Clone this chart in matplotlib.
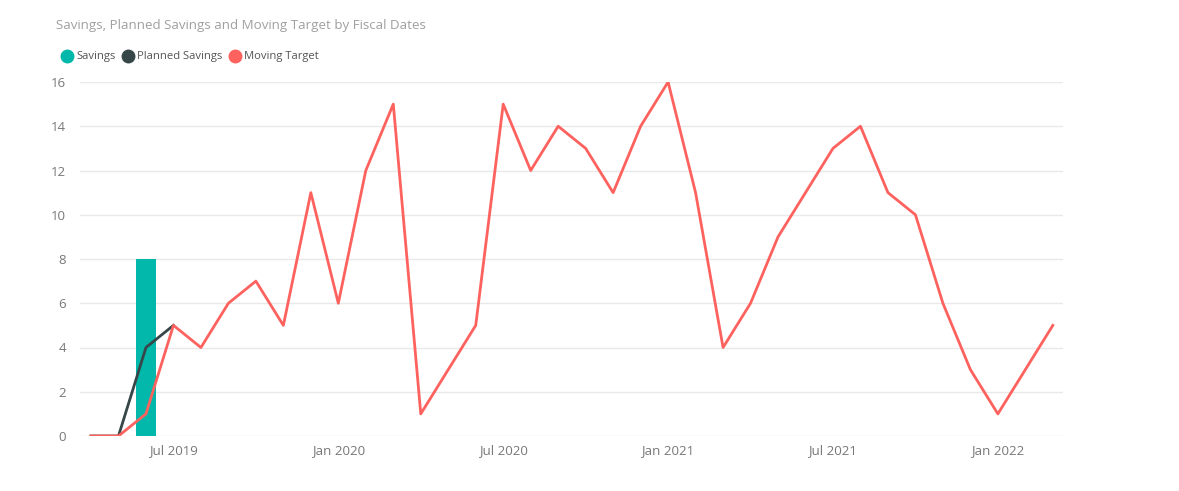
import matplotlib.pyplot as plt
from matplotlib.lines import Line2D

# -----------------------------
# Data (monthly, Apr 2019 - Mar 2022)
# -----------------------------
months = ["Apr 2019", "May 2019", "Jun 2019", "Jul 2019", "Aug 2019", "Sep 2019",
          "Oct 2019", "Nov 2019", "Dec 2019", "Jan 2020", "Feb 2020", "Mar 2020",
          "Apr 2020", "May 2020", "Jun 2020", "Jul 2020", "Aug 2020", "Sep 2020",
          "Oct 2020", "Nov 2020", "Dec 2020", "Jan 2021", "Feb 2021", "Mar 2021",
          "Apr 2021", "May 2021", "Jun 2021", "Jul 2021", "Aug 2021", "Sep 2021",
          "Oct 2021", "Nov 2021", "Dec 2021", "Jan 2022", "Feb 2022", "Mar 2022"]

moving_target = [0, 0, 1, 5, 4, 6, 7, 5, 11, 6, 12, 15,
                 1, 3, 5, 15, 12, 14, 13, 11, 14, 16, 11, 4,
                 6, 9, 11, 13, 14, 11, 10, 6, 3, 1, 3, 5]

planned_months = ["Apr 2019", "May 2019", "Jun 2019", "Jul 2019"]
planned_savings = [0, 0, 4, 5]

savings_months = ["Jun 2019"]
savings = [8]

tick_labels = ["Jul 2019", "Jan 2020", "Jul 2020", "Jan 2021", "Jul 2021", "Jan 2022"]

# -----------------------------
# Plot
# -----------------------------
c_sav = "#01B8AA"
c_plan = "#374649"
c_target = "#FD625E"
c_text = "#777777"

plt.rcParams['font.family'] = ['Open Sans', 'DejaVu Sans']

fig = plt.figure(figsize=(11.79, 4.91), dpi=100)
ax = fig.add_axes([80 / 1179, 55 / 491, (1063 - 80) / 1179, (436 - 82) / 491])

idx = {m: i for i, m in enumerate(months)}
x_all = list(range(len(months)))

ax.bar([idx[m] for m in savings_months], savings, width=0.72, color=c_sav, zorder=2)
ax.plot([idx[m] for m in planned_months], planned_savings, color=c_plan, lw=2, zorder=3)
ax.plot(x_all, moving_target, color=c_target, lw=2, zorder=4)

ax.set_xlim(-0.4, len(months) - 1 + 0.37)
ax.set_ylim(0, 16)
ax.set_yticks(range(0, 17, 2))
ax.set_xticks([idx[m] for m in tick_labels])
ax.set_xticklabels(tick_labels)

ax.grid(axis="y", color="#E9E9E9", lw=1, zorder=0)
ax.set_axisbelow(True)
for s in ax.spines.values():
    s.set_visible(False)
ax.tick_params(axis="both", length=0, labelsize=9.5, colors=c_text, labelcolor=c_text)
ax.tick_params(axis="y", pad=10)
ax.tick_params(axis="x", pad=6)

fig.text(56 / 1179, 1 - 26 / 491, "Savings, Planned Savings and Moving Target by Fiscal Dates",
         fontsize=9.6, color="#A0A0A0", va="center", ha="left")

handles = [Line2D([], [], marker="o", ls="", color=c, markersize=9)
           for c in (c_sav, c_plan, c_target)]
fig.legend(handles, ["Savings", "Planned Savings", "Moving Target"],
           loc="center left", bbox_to_anchor=(50 / 1179, 1 - 57 / 491), ncol=3,
           frameon=False, fontsize=8.1, handletextpad=0.15, columnspacing=0.45,
           handlelength=1.3, labelcolor="#555555")

plt.savefig("out.png", dpi=100)
